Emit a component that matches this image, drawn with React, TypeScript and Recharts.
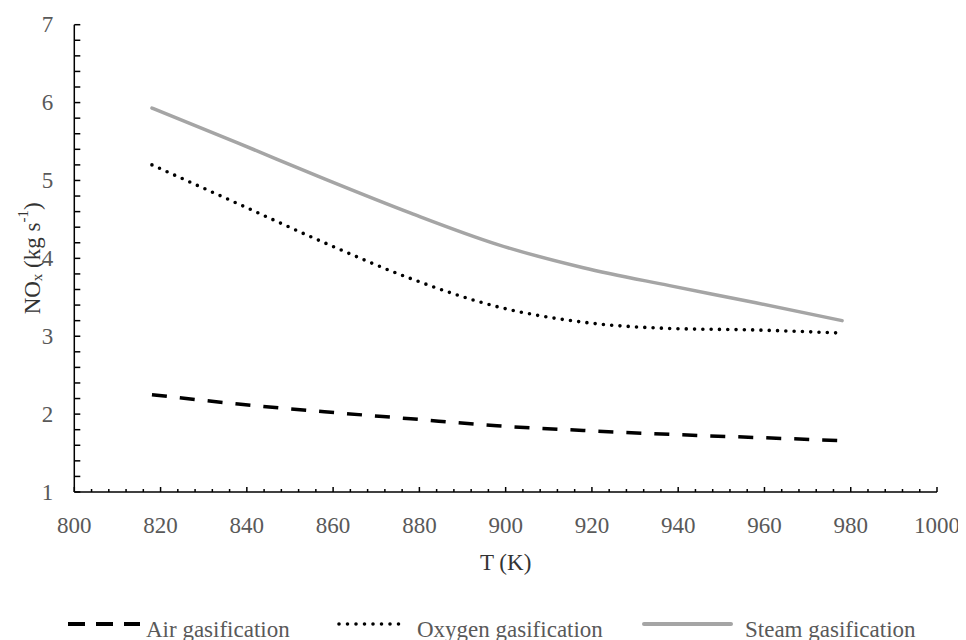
import { LineChart, Line, XAxis, YAxis } from 'recharts'

const temperature = [818, 838, 858, 878, 898, 918, 938, 958, 978]
const airGasification = [2.25, 2.13, 2.03, 1.94, 1.85, 1.79, 1.74, 1.7, 1.66]
const oxygenGasification = [5.2, 4.7, 4.2, 3.74, 3.38, 3.18, 3.1, 3.08, 3.04]
const steamGasification = [5.93, 5.48, 5.02, 4.58, 4.18, 3.88, 3.65, 3.43, 3.2]

const xMajorTicks = [800, 820, 840, 860, 880, 900, 920, 940, 960, 980, 1000]
const yMajorTicks = [1, 2, 3, 4, 5, 6, 7]

// minor ticks: 5 divisions between every pair of labelled ticks
const withMinor = (major: number[]) => {
  const out: number[] = []
  for (let i = 0; i < major.length - 1; i++) {
    const step = (major[i + 1] - major[i]) / 5
    for (let k = 0; k < 5; k++) out.push(+(major[i] + step * k).toFixed(4))
  }
  out.push(major[major.length - 1])
  return out
}
const xTicks = withMinor(xMajorTicks)
const yTicks = withMinor(yMajorTicks)

const data = temperature.map((t, i) => ({
  t,
  air: airGasification[i],
  oxygen: oxygenGasification[i],
  steam: steamGasification[i],
}))

const serif = { fontFamily: "'Liberation Serif', 'Times New Roman', Times, serif" }
const LABEL_GREY = '#595959'
const TITLE = '#333333'

const isMajor = (v: number, list: number[]) =>
  list.some((m) => Math.abs(m - v) < 1e-6)

const XTick = (props: any) => {
  const { x, y, payload } = props
  const major = isMajor(payload.value, xMajorTicks)
  return (
    <g>
      <line x1={x} x2={x} y1={y} y2={y - (major ? 5 : 3)} stroke="#000" strokeWidth={1.5} />
      {major && (
        <text
          x={x}
          y={y + 33}
          textAnchor="middle"
          dominantBaseline="central"
          style={serif}
          fontSize={23}
          fill={LABEL_GREY}
        >
          {payload.value}
        </text>
      )}
    </g>
  )
}

const YTick = (props: any) => {
  const { x, y, payload } = props
  const major = isMajor(payload.value, yMajorTicks)
  return (
    <g>
      <line x1={x} x2={x + 6} y1={y} y2={y} stroke="#000" strokeWidth={1.5} />
      {major && (
        <text
          x={x - 21}
          y={y}
          textAnchor="end"
          dominantBaseline="central"
          style={serif}
          fontSize={23}
          fill={LABEL_GREY}
        >
          {payload.value}
        </text>
      )}
    </g>
  )
}

const XTitle = (props: any) => {
  const { viewBox } = props
  return (
    <text
      x={viewBox.x + viewBox.width / 2}
      y={viewBox.y + 70}
      textAnchor="middle"
      dominantBaseline="central"
      style={serif}
      fontSize={23}
      fill={TITLE}
    >
      T (K)
    </text>
  )
}

const YTitle = (props: any) => {
  const { viewBox } = props
  const cx = 24
  const cy = viewBox.y + viewBox.height / 2
  return (
    <text
      transform={`translate(${cx},${cy}) rotate(-90)`}
      textAnchor="middle"
      dominantBaseline="central"
      style={serif}
      fontSize={23}
      fill={TITLE}
    >
      NO
      <tspan fontSize={15} dy={5}>x</tspan>
      <tspan dy={-5}> (kg s</tspan>
      <tspan fontSize={15} dy={-9}>-1</tspan>
      <tspan dy={9}>)</tspan>
    </text>
  )
}

const legendItems = [
  { label: 'Air gasification', x1: 60, x2: 132, textX: 138, color: '#000', width: 4, dash: '17 11', cap: 'butt' },
  { label: 'Oxygen gasification', x1: 331, x2: 391, textX: 409, color: '#000', width: 3.6, dash: '0 8.5', cap: 'round' },
  { label: 'Steam gasification', x1: 636, x2: 723, textX: 737, color: '#A5A5A5', width: 4, dash: undefined, cap: 'round' },
]

export default function App() {
  return (
    <div style={{ position: 'relative', width: 958, height: 632 }}>
      <LineChart
        width={958}
        height={632}
        data={data}
        margin={{ top: 16.7, right: 29, bottom: 88, left: 16.3 }}
      >
        <XAxis
          dataKey="t"
          type="number"
          domain={[800, 1000]}
          ticks={xTicks}
          interval={0}
          height={60}
          tickSize={0}
          tickMargin={0}
          tickLine={false}
          tick={<XTick />}
          axisLine={{ stroke: '#000', strokeWidth: 1.5 }}
          label={{ content: <XTitle /> }}
        />
        <YAxis
          type="number"
          domain={[1, 7]}
          ticks={yTicks}
          interval={0}
          width={50}
          tickSize={0}
          tickMargin={0}
          tickLine={false}
          tick={<YTick />}
          axisLine={{ stroke: '#000', strokeWidth: 1.5 }}
          label={{ content: <YTitle /> }}
        />
        <Line
          dataKey="air"
          type="monotone"
          stroke="#000"
          strokeWidth={3.5}
          strokeDasharray="15 13"
          dot={false}
          activeDot={false}
          isAnimationActive={false}
        />
        <Line
          dataKey="oxygen"
          type="monotone"
          stroke="#000"
          strokeWidth={3.6}
          strokeDasharray="0 8.3"
          strokeLinecap="round"
          dot={false}
          activeDot={false}
          isAnimationActive={false}
        />
        <Line
          dataKey="steam"
          type="monotone"
          stroke="#A5A5A5"
          strokeWidth={3.5}
          strokeLinecap="round"
          dot={false}
          activeDot={false}
          isAnimationActive={false}
        />
      </LineChart>
      <svg
        width={958}
        height={632}
        style={{ position: 'absolute', left: 0, top: 0, pointerEvents: 'none' }}
      >
        {legendItems.map((item) => (
          <g key={item.label}>
            <line
              x1={item.x1}
              x2={item.x2}
              y1={616}
              y2={616}
              stroke={item.color}
              strokeWidth={item.width}
              strokeDasharray={item.dash}
              strokeLinecap={item.cap as any}
            />
            <text
              x={item.textX}
              y={621}
              dominantBaseline="central"
              style={serif}
              fontSize={23}
              fill={LABEL_GREY}
            >
              {item.label}
            </text>
          </g>
        ))}
      </svg>
    </div>
  )
}
